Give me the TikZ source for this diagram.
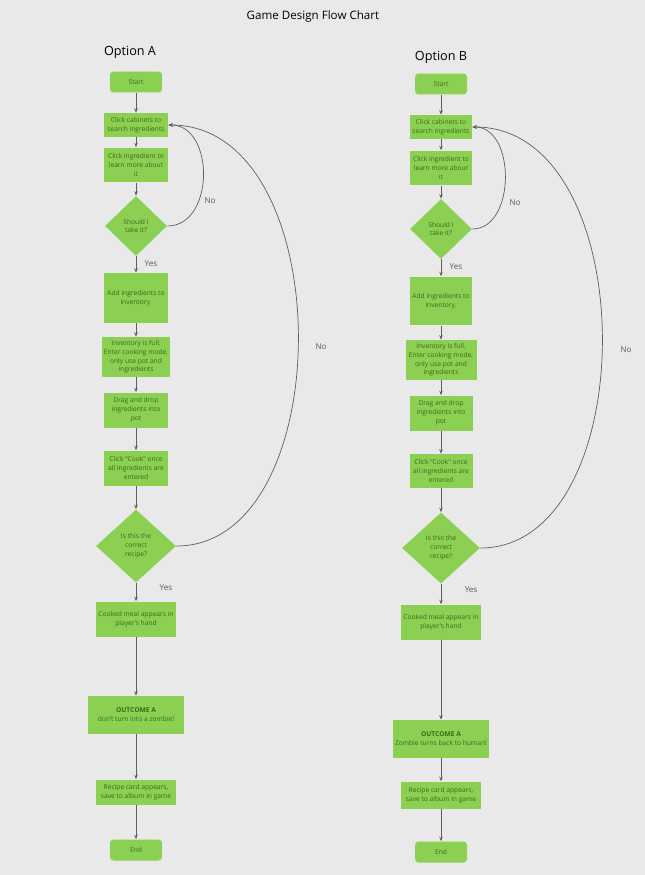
\documentclass[tikz,border=0pt]{standalone}
\usepackage{fontspec}
\setmainfont{Open Sans}
\usetikzlibrary{shapes.geometric, arrows.meta}
\definecolor{boxgreen}{RGB}{139,208,82}
\definecolor{textgreen}{RGB}{58,105,28}
\definecolor{linegray}{RGB}{95,95,95}
\definecolor{bggray}{RGB}{233,233,233}

\begin{document}
\begin{tikzpicture}[
    x=0.02cm, y=-0.02cm,
    box/.style={rectangle, fill=boxgreen, text=textgreen, font=\fontsize{3.8}{5}\selectfont, align=center, inner sep=1pt, minimum width=1.28cm},
    terminal/.style={box, rounded corners=2pt, minimum width=1.04cm, minimum height=0.42cm},
    decision/.style={diamond, fill=boxgreen, text=textgreen, font=\fontsize{3.8}{5}\selectfont, align=center, inner sep=0pt},
    arrow/.style={-{Stealth[length=2.5pt,width=2pt]}, draw=linegray, line width=0.4pt},
    label/.style={font=\fontsize{4.6}{5.5}\selectfont, text=black!65},
    heading/.style={font=\fontsize{6.6}{8}\selectfont}
]

% Background and page size
\fill[bggray] (0,0) rectangle (645,875);
\useasboundingbox (0,0) rectangle (645,875);

% Titles
\node[heading] (title) at (313,16) {Game Design Flow Chart};
\node[heading, font=\fontsize{7.2}{8}\selectfont] (optA) at (130,52) {Option A};
\node[heading, font=\fontsize{7.2}{8}\selectfont] (optB) at (441,57) {Option B};

% Option A
\node[terminal] (startA) at (136,82) {Start};
\node[box, minimum height=0.48cm] (cabA) at (136,125) {Click cabinets to\\search ingredients};
\node[box, minimum height=0.7cm] (learnA) at (136,165) {Click ingredient to\\learn more about\\it};
\node[decision, minimum width=1.24cm, minimum height=1.2cm] (takeA) at (136,226) {Should I\\take it?};
\node[box, minimum height=1cm] (addA) at (136,298) {Add ingredients to\\inventory.};
\node[box, minimum width=1.38cm, minimum height=0.8cm] (fullA) at (136,357) {Inventory is full.\\Enter cooking mode,\\only use pot and\\ingredients};
\node[box, minimum height=0.7cm] (dragA) at (136,410) {Drag and drop\\ingredients into\\pot};
\node[box, minimum height=0.7cm] (cookA) at (136,468) {Click ``Cook'' once\\all ingredients are\\entered};
\node[decision, minimum width=1.6cm, minimum height=1.46cm] (recipeA) at (136,546) {Is this the\\correct\\recipe?};
\node[box, minimum width=1.6cm, minimum height=0.7cm] (mealA) at (136,619) {Cooked meal appears in\\player's hand};
\node[box, minimum width=1.92cm, minimum height=0.76cm] (outA) at (136,715) {\textbf{OUTCOME A}\\don't turn into a zombie!};
\node[box, minimum width=1.6cm, minimum height=0.5cm] (cardA) at (136,792) {Recipe card appears,\\save to album in game};
\node[terminal] (endA) at (136,850) {End};

\draw[arrow] (startA) -- (cabA);
\draw[arrow] (cabA) -- (learnA);
\draw[arrow] (learnA) -- (takeA);
\draw[arrow] (takeA) -- (addA);
\draw[arrow] (addA) -- (fullA);
\draw[arrow] (fullA) -- (dragA);
\draw[arrow] (dragA) -- (cookA);
\draw[arrow] (cookA) -- (recipeA);
\draw[arrow] (recipeA) -- (mealA);
\draw[arrow] (mealA) -- (outA);
\draw[arrow] (outA) -- (cardA);
\draw[arrow] (cardA) -- (endA);

% Loops back for option A
\draw[arrow] (takeA.east) .. controls (215,226) and (215,125) .. (cabA.east);
\draw[arrow] (recipeA.east) .. controls (340,546) and (340,125) .. (cabA.east);
\node[label] at (151,264) {Yes};
\node[label] at (166,588) {Yes};
\node[label] at (210,201) {No};
\node[label] at (321,347) {No};

% Option B
\node[terminal] (startB) at (441,84) {Start};
\node[box, minimum width=1.24cm, minimum height=0.48cm] (cabB) at (441,127) {Click cabinets to\\search ingredients};
\node[box, minimum width=1.24cm, minimum height=0.7cm] (learnB) at (441,168) {Click ingredient to\\learn more about\\it};
\node[decision, minimum width=1.24cm, minimum height=1.2cm] (takeB) at (441,229) {Should I\\take it?};
\node[box, minimum width=1.24cm, minimum height=0.98cm] (addB) at (441,301) {Add ingredients to\\inventory.};
\node[box, minimum width=1.42cm, minimum height=0.8cm] (fullB) at (441,360) {Inventory is full.\\Enter cooking mode,\\only use pot and\\ingredients};
\node[box, minimum width=1.26cm, minimum height=0.7cm] (dragB) at (441,413) {Drag and drop\\ingredients into\\pot};
\node[box, minimum width=1.26cm, minimum height=0.68cm] (cookB) at (441,471) {Click ``Cook'' once\\all ingredients are\\entered};
\node[decision, minimum width=1.56cm, minimum height=1.42cm] (recipeB) at (441,548) {Is this the\\correct\\recipe?};
\node[box, minimum width=1.6cm, minimum height=0.7cm] (mealB) at (441,622) {Cooked meal appears in\\player's hand};
\node[box, minimum width=1.94cm, minimum height=0.76cm] (outB) at (441,739) {\textbf{OUTCOME A}\\Zombie turns back to human!};
\node[box, minimum width=1.6cm, minimum height=0.54cm] (cardB) at (441,795) {Recipe card appears,\\save to album in game};
\node[terminal] (endB) at (441,852) {End};

\draw[arrow] (startB) -- (cabB);
\draw[arrow] (cabB) -- (learnB);
\draw[arrow] (learnB) -- (takeB);
\draw[arrow] (takeB) -- (addB);
\draw[arrow] (addB) -- (fullB);
\draw[arrow] (fullB) -- (dragB);
\draw[arrow] (dragB) -- (cookB);
\draw[arrow] (cookB) -- (recipeB);
\draw[arrow] (recipeB) -- (mealB);
\draw[arrow] (mealB) -- (outB);
\draw[arrow] (outB) -- (cardB);
\draw[arrow] (cardB) -- (endB);

% Loops back for option B
\draw[arrow] (takeB.east) .. controls (516,229) and (516,127) .. (cabB.east);
\draw[arrow] (recipeB.east) .. controls (644,548) and (644,127) .. (cabB.east);
\node[label] at (456,267) {Yes};
\node[label] at (471,590) {Yes};
\node[label] at (515,203) {No};
\node[label] at (626,350) {No};

\end{tikzpicture}
\end{document}
